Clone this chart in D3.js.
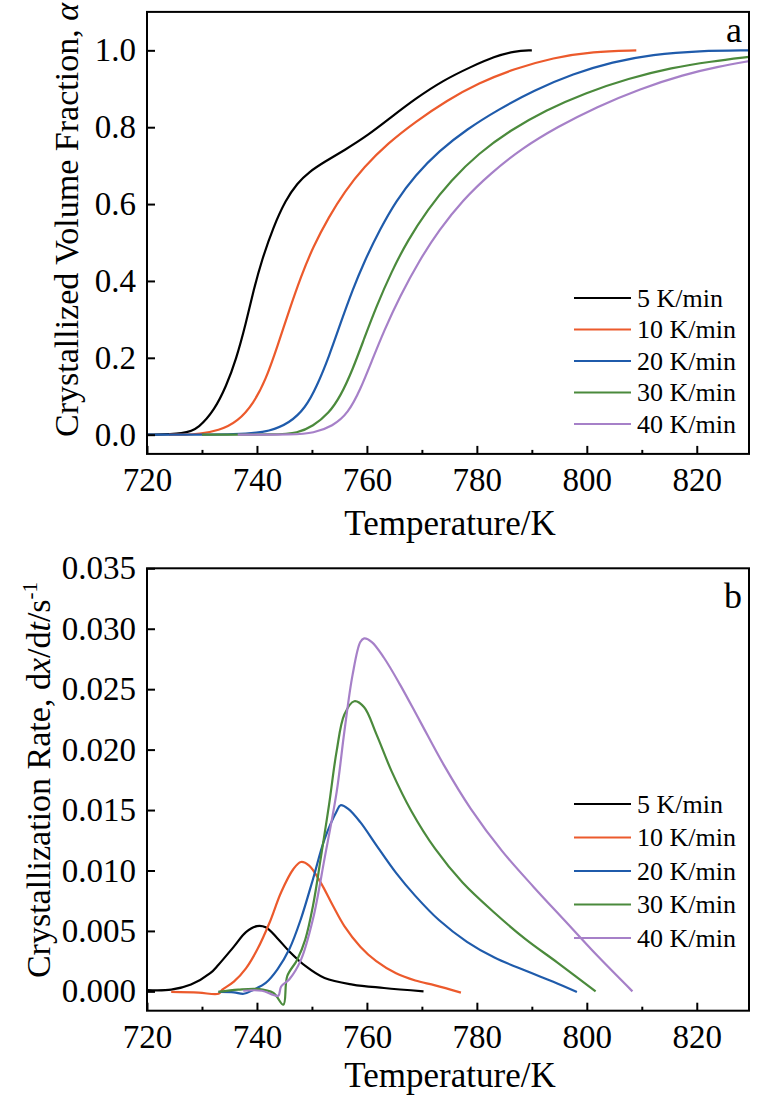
<!DOCTYPE html>
<html lang="en">
<head>
  <meta charset="UTF-8">
  <title>Crystallization kinetics</title>
  <style>
    body { margin: 0; background: #fff; }
    svg { display: block; }
    svg text { font-family: "Liberation Serif", "Times New Roman", serif; fill: #000; }
    .curve { fill: none; stroke-width: 2.2px; stroke-linejoin: round; }
  </style>
</head>
<body>
  <script src="https://cdn.jsdelivr.net/npm/d3@7/dist/d3.min.js"></script>
  <script>
    const width = 757, height = 1102;

    // heating rates and colours
    const rates = ['5 K/min', '10 K/min', '20 K/min', '30 K/min', '40 K/min'];
    const colors = ['#000000', '#ec5a2c', '#1f5bab', '#4b8a3c', '#a680c8'];

    // panel a: crystallized volume fraction, [T (K), alpha]
    const frac5 = [[720,0],[727,0.002],[729.4,0.017],[732.3,0.065],[734.4,0.126],[736.2,0.195],[738,0.29],[739.4,0.377],[740.9,0.455],[743,0.541],[745.2,0.61],[747.3,0.654],[749.5,0.684],[752.3,0.71],[755.9,0.74],[760.2,0.779],[764.5,0.827],[768.8,0.874],[773.9,0.922],[778.9,0.957],[783.2,0.984],[786.8,0.998],[790,1.0]];
    const frac10 = [[724,0],[727,0],[729.4,0.002],[733,0.01],[736.6,0.035],[739.4,0.082],[741.6,0.143],[743.7,0.229],[745.9,0.325],[748,0.411],[750.2,0.489],[753.1,0.567],[755.9,0.632],[759.5,0.697],[763.8,0.758],[768.8,0.814],[774.6,0.87],[780.3,0.915],[786.8,0.952],[793.9,0.981],[801.1,0.997],[809,1.0]];
    const frac20 = [[720,0],[738,0],[742.3,0.009],[745.9,0.03],[748.8,0.069],[750.9,0.126],[753.1,0.203],[755.2,0.29],[757.4,0.377],[759.5,0.45],[762.4,0.535],[765.3,0.608],[768.8,0.675],[773.1,0.738],[778.2,0.795],[783.9,0.846],[790.4,0.896],[797.5,0.939],[804.7,0.97],[811.9,0.989],[820.5,0.999],[829.5,1.0]];
    const frac30 = [[730,0],[744,0],[747.3,0.004],[750.2,0.022],[753.1,0.056],[755.2,0.1],[757.4,0.169],[759.5,0.25],[761.7,0.333],[764.5,0.425],[767.4,0.505],[771,0.585],[775.3,0.662],[780.3,0.732],[786.1,0.792],[792.5,0.844],[799.7,0.889],[807.6,0.927],[815.5,0.955],[822.6,0.971],[829.5,0.983]];
    const frac40 = [[736.5,0],[747,0],[750.2,0.004],[753.8,0.022],[756.6,0.056],[758.8,0.117],[760.9,0.192],[763.1,0.27],[766,0.36],[769.6,0.455],[773.1,0.532],[777.4,0.61],[782.5,0.68],[788.2,0.745],[794.7,0.801],[801.8,0.853],[809.7,0.9],[817.6,0.937],[824.1,0.958],[829.5,0.972]];

    // panel b: crystallization rate, [T (K), dx/dt (1/s)]
    const rate5 = [[720,0.0001],[724.4,0.00014],[728,0.00056],[731.5,0.0015],[733,0.0022],[735.8,0.0037],[738,0.0049],[740,0.0054],[741.6,0.0053],[743.7,0.0044],[745.9,0.0033],[748.8,0.0021],[752.3,0.0011],[757.4,0.00056],[763.1,0.00028],[770.3,0.0]];
    const rate10 = [[724.4,-0.00005],[729.4,-0.0001],[733,-0.0002],[733.7,0.00014],[735.8,0.0008],[738,0.0019],[740.1,0.0035],[742.3,0.0057],[744.4,0.0082],[746.6,0.0101],[748,0.0107],[749.5,0.0104],[751.6,0.009],[753.8,0.0071],[755.9,0.0054],[758.8,0.0037],[761.7,0.0025],[765.3,0.0015],[768.8,0.0009],[772.4,0.0005],[777.1,-0.0001]];
    const rate20 = [[733,-0.00005],[735.8,-0.00008],[737.6,-0.0002],[739.4,0.00014],[741.6,0.0007],[743.7,0.0018],[745.9,0.0035],[748,0.006],[750.2,0.0093],[752.3,0.0126],[754.5,0.0149],[755.2,0.0154],[756.6,0.0151],[758.8,0.014],[761.7,0.0121],[765.3,0.0098],[768.8,0.0079],[773.1,0.0059],[778.2,0.0041],[783.2,0.0028],[788.9,0.0017],[793.9,0.0008],[798.2,-0.00005]];
    const rate30 = [[733,-0.00005],[736.6,0.00014],[740.1,0.0002],[743,-0.00014],[744.8,-0.0011],[745.5,0.00125],[747.3,0.0026],[748.8,0.0043],[750.2,0.0071],[751.6,0.011],[753.1,0.0154],[754.5,0.0199],[755.9,0.0229],[757.7,0.024],[759.5,0.0235],[761.7,0.0213],[764.5,0.0182],[768.1,0.0149],[772.4,0.0118],[777.4,0.009],[783.2,0.0065],[788.9,0.0043],[794.6,0.0024],[801.6,0.0]];
    const rate40 = [[737.5,0.00005],[740.9,0.00005],[743,-0.0003],[743.9,-0.00036],[744.4,0.0004],[745.9,0.001],[748,0.0026],[750.2,0.006],[752.3,0.011],[754.5,0.0165],[755.9,0.0215],[757.4,0.0262],[758.8,0.0289],[759.5,0.0292],[760.9,0.0289],[763.1,0.0276],[766,0.0254],[769.6,0.0224],[773.9,0.0188],[778.9,0.0151],[784.6,0.0116],[790.4,0.0086],[796.1,0.0058],[801.8,0.0030],[808.3,0.0]];

    const xMajor = [720, 740, 760, 780, 800, 820];
    const xMinor = [730, 750, 770, 790, 810];
    const fracTicks = [0, 0.2, 0.4, 0.6, 0.8, 1.0];
    const rateTicks = [0, 0.005, 0.010, 0.015, 0.020, 0.025, 0.030, 0.035];

    const svg = d3.select('body').append('svg').attr('width', width).attr('height', height);

    const panels = [
      { series: [frac5, frac10, frac20, frac30, frac40], top: 11.9, bottom: 453.9, yDomain: [-0.05, 1.1],
        curve: d3.curveBasis,
        yTicks: fracTicks, yFmt: d3.format('.1f'), letter: 'a', letterY: 42, legendY: 298, legendGap: 31.5, titleY: 535 },
      { series: [rate5, rate10, rate20, rate30, rate40], top: 568.3, bottom: 1010.7, yDomain: [-0.0016, 0.035],
        curve: d3.curveCatmullRom.alpha(0.5),
        yTicks: rateTicks, yFmt: d3.format('.3f'), letter: 'b', letterY: 608, legendY: 804, legendGap: 33.5, titleY: 1087 }
    ];
    const left = 147, right = 749;

    panels.forEach(function(p){
      const x = d3.scaleLinear().domain([720, 829.5]).range([left, right]);
      const y = d3.scaleLinear().domain(p.yDomain).range([p.bottom, p.top]);
      const g = svg.append('g');

      // curves
      const line = d3.line().curve(p.curve).x(d => x(d[0])).y(d => y(d[1]));
      g.selectAll('path.curve').data(p.series)
        .enter().append('path')
        .attr('class', 'curve')
        .attr('stroke', (d, i) => colors[i])
        .attr('d', line);

      // x axis, ticks pointing inward
      g.append('g').attr('transform', `translate(0,${p.bottom})`)
        .call(d3.axisBottom(x).tickValues(xMajor).tickSizeInner(-8).tickSizeOuter(0).tickPadding(14));
      g.append('g').attr('transform', `translate(0,${p.bottom})`)
        .call(d3.axisBottom(x).tickValues(xMinor).tickFormat('').tickSizeInner(-4).tickSizeOuter(0));

      // y axis
      g.append('g').attr('transform', `translate(${left},0)`)
        .call(d3.axisLeft(y).tickValues(p.yTicks).tickFormat(p.yFmt).tickSizeInner(-8).tickSizeOuter(0).tickPadding(11));

      g.selectAll('.domain').remove();
      g.selectAll('.tick line').attr('stroke', '#000').attr('stroke-width', 2);
      g.selectAll('.tick text').attr('font-size', 33);

      // frame
      g.append('rect')
        .attr('x', left).attr('y', p.top)
        .attr('width', right - left).attr('height', p.bottom - p.top)
        .attr('fill', 'none').attr('stroke', '#000').attr('stroke-width', 2);

      // panel letter
      g.append('text').attr('x', 742).attr('y', p.letterY)
        .attr('text-anchor', 'end').attr('font-size', 36).text(p.letter);

      // legend
      const lg = g.append('g').selectAll('g').data(rates).enter().append('g')
        .attr('transform', (d, i) => `translate(0,${p.legendY + i * p.legendGap})`);
      lg.append('line').attr('x1', 574).attr('x2', 631).attr('y1', 0).attr('y2', 0)
        .attr('stroke', (d, i) => colors[i]).attr('stroke-width', 2.2);
      lg.append('text').attr('x', 637).attr('y', 8.5).attr('font-size', 26).text(d => d);

      // x title
      g.append('text').attr('x', 450).attr('y', p.titleY)
        .attr('text-anchor', 'middle').attr('font-size', 35).text('Temperature/K');
    });

    // y titles
    svg.append('text')
      .attr('transform', 'translate(78,220) rotate(-90)')
      .attr('text-anchor', 'middle').attr('font-size', 34)
      .text('Crystallized Volume Fraction, ')
      .append('tspan').attr('font-style', 'italic').text('α');

    const yb = svg.append('text')
      .attr('transform', 'translate(50,780) rotate(-90)')
      .attr('text-anchor', 'middle').attr('font-size', 34);
    yb.append('tspan').text('Crystallization Rate, d');
    yb.append('tspan').attr('font-style', 'italic').text('x');
    yb.append('tspan').text('/d');
    yb.append('tspan').attr('font-style', 'italic').text('t');
    yb.append('tspan').text('/s');
    yb.append('tspan').attr('font-size', 21).attr('dy', -13).text('-1');
  </script>
</body>
</html>
